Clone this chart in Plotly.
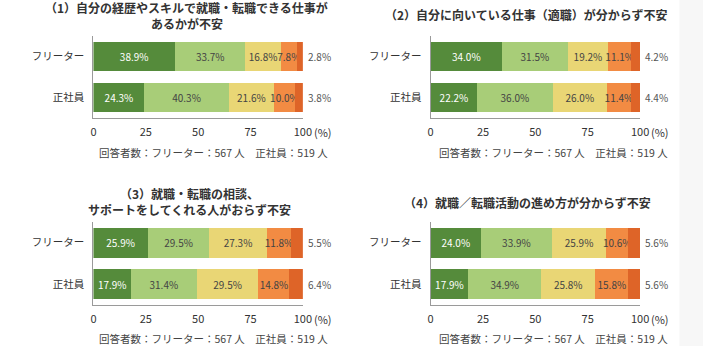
import plotly.graph_objects as go

W, H = 712, 346

categories = ["フリーター", "正社員"]
tick_vals = [0, 25, 50, 75, 100]
tick_text = ["0", "25", "50", "75", "100"]

titles = [
    ["（1）自分の経歴やスキルで就職・転職できる仕事が", "あるかが不安"],
    ["（2）自分に向いている仕事（適職）が分からず不安"],
    ["（3）就職・転職の相談、", "サポートをしてくれる人がおらず不安"],
    ["（4）就職／転職活動の進め方が分からず不安"],
]
note = "回答者数：フリーター：567 人　正社員：519 人"

# values per panel: [segment][category]  (フリーター, 正社員)
p1 = [[38.9, 24.3], [33.7, 40.3], [16.8, 21.6], [7.8, 10.0], [2.8, 3.8]]
p2 = [[34.0, 22.2], [31.5, 36.0], [19.2, 26.0], [11.1, 11.4], [4.2, 4.4]]
p3 = [[25.9, 17.9], [29.5, 31.4], [27.3, 29.5], [11.8, 14.8], [5.5, 6.4]]
p4 = [[24.0, 17.9], [33.9, 34.9], [25.9, 25.8], [10.6, 15.8], [5.6, 5.6]]
panels = [p1, p2, p3, p4]

colors = ["#558b3b", "#a8cd78", "#e9d675", "#f28b43", "#de6428"]
text_colors = ["#ffffff", "#444444", "#444444", "#444444", "#555555"]

FONT = "Noto Sans CJK JP"

# pixel layout (left, right, top, bottom) of each plot area
areas = [
    (92, 305, 36, 118),
    (435, 648, 36, 118),
    (92, 305, 222, 305),
    (435, 648, 222, 305),
]
title_pos = [(187, [7.5, 23.5]), (532, [15]), (190, [193.5, 209.5]), (533, [202])]
note_pos = [(333, 153), (678, 153), (333, 338), (678, 338)]

fig = go.Figure()
layout = {}
annotations = []

for i, (vals, (l, r, t, b)) in enumerate(zip(panels, areas)):
    n = i + 1
    xa = "x" if n == 1 else f"x{n}"
    ya = "y" if n == 1 else f"y{n}"
    for s, seg in enumerate(vals[:-1]):
        fig.add_trace(go.Bar(
            x=seg, y=categories, orientation="h",
            xaxis=xa, yaxis=ya,
            marker=dict(color=colors[s], line=dict(width=0)),
            width=0.73,
            text=[f"{v:.1f}%" for v in seg],
            textposition="inside",
            insidetextanchor="middle",
            textangle=0,
            constraintext="none",
            cliponaxis=False,
            insidetextfont=dict(family=FONT, size=10, color=text_colors[s]),
            hoverinfo="skip",
            showlegend=False,
        ))
    last = vals[-1]
    fig.add_trace(go.Bar(
        x=last, y=categories, orientation="h",
        xaxis=xa, yaxis=ya,
        marker=dict(color=colors[-1], line=dict(width=0)),
        width=0.73, cliponaxis=False,
        hoverinfo="skip", showlegend=False,
    ))
    # outside labels for last segment, at end of stacked bar
    for c, cat in enumerate(categories):
        total = sum(seg[c] for seg in vals)
        annotations.append(dict(
            x=total, y=cat, xref=xa, yref=ya, xshift=3,
            text=f"{last[c]:.1f}%", showarrow=False,
            xanchor="left", yanchor="middle",
            font=dict(family=FONT, size=10, color=text_colors[-1]),
        ))
    layout[f"xaxis{'' if n == 1 else n}"] = dict(
        domain=[l / W, r / W], range=[0, 100], anchor=ya,
        tickvals=tick_vals, ticktext=tick_text,
        showline=True, linecolor="#9a9a9a", linewidth=1,
        showgrid=False, zeroline=False,
        ticks="outside", ticklen=4, tickcolor="rgba(0,0,0,0)",
        tickfont=dict(family=FONT, size=11, color="#333333"),
        fixedrange=True,
    )
    layout[f"yaxis{'' if n == 1 else n}"] = dict(
        domain=[1 - b / H, 1 - t / H], anchor=xa,
        categoryorder="array", categoryarray=categories[::-1],
        showline=True, linecolor="#9a9a9a", linewidth=1,
        showgrid=False, zeroline=False,
        ticks="outside", ticklen=6, tickcolor="rgba(0,0,0,0)",
        tickfont=dict(family=FONT, size=10.5, color="#333333"),
        fixedrange=True,
    )
    # "(%)" suffix after the 100 tick
    annotations.append(dict(
        x=100, y=1 - b / H, xref=xa, yref="paper", xshift=9,
        text="(%)", showarrow=False, xanchor="left", yanchor="top", yshift=-4,
        font=dict(family=FONT, size=11, color="#333333"),
    ))
    tx, tys = title_pos[i]
    for line, ty in zip(titles[i], tys):
        annotations.append(dict(
            x=tx / W, y=1 - ty / H, xref="paper", yref="paper",
            text=f"<b>{line}</b>", showarrow=False, borderpad=0,
            xanchor="center", yanchor="middle",
            font=dict(family=FONT, size=12, color="#333333"),
        ))
    nx, ny = note_pos[i]
    annotations.append(dict(
        x=nx / W, y=1 - ny / H, xref="paper", yref="paper",
        text=note, showarrow=False, xanchor="right", yanchor="middle",
        font=dict(family=FONT, size=10.5, color="#444444"),
    ))

fig.update_layout(
    width=W, height=H,
    margin=dict(l=0, r=0, t=0, b=0),
    paper_bgcolor="#ffffff", plot_bgcolor="rgba(0,0,0,0)",
    barmode="stack", bargap=0.27,
    annotations=annotations,
    shapes=[dict(type="rect", xref="paper", yref="paper",
                 x0=688 / W, x1=1, y0=0, y1=1,
                 fillcolor="#f7f7f7", line=dict(width=0), layer="below")],
    **layout,
)

fig.write_html("out.html", config={"displayModeBar": False})
